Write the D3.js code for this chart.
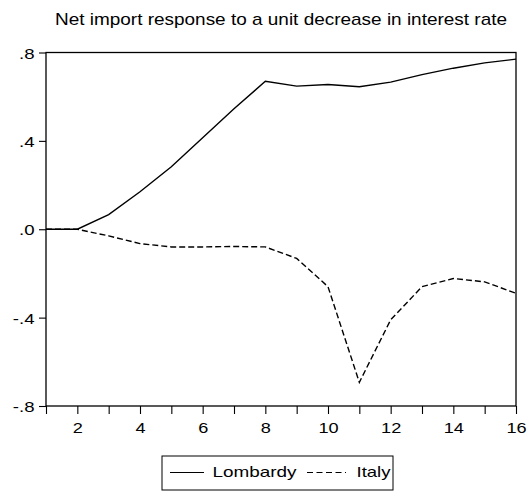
<!DOCTYPE html>
<html><head><meta charset="utf-8">
<script src="https://cdn.jsdelivr.net/npm/d3@7"></script>
<style>body{margin:0;background:#fff}text{font-family:"Liberation Sans",Arial,sans-serif;fill:#000}</style>
</head><body><svg id="c" width="529" height="491"></svg>
<script>
const periods = [1,2,3,4,5,6,7,8,9,10,11,12,13,14,15,16];
const lombardy = [0,0,0.066,0.17,0.283,0.414,0.545,0.67,0.648,0.655,0.645,0.666,0.70,0.729,0.753,0.77];
const italy = [0,0,-0.03,-0.065,-0.08,-0.08,-0.078,-0.08,-0.132,-0.26,-0.693,-0.41,-0.26,-0.223,-0.238,-0.29];
const yTicks = [-0.8,-0.4,0,0.4,0.8];
const xLabelTicks = [2,4,6,8,10,12,14,16];
const title = "Net import response to a unit decrease in interest rate";
const seriesNames = ["Lombardy","Italy"];

const svg = d3.select("#c");
const L=46,R=516,T=52.5,B=406;
const x = d3.scaleLinear().domain([1,16]).range([L,R]);
const y = d3.scaleLinear().domain([-0.8,0.8]).range([B,T]);

function stretch(sel, sx, anchor){
  sel.each(function(){
    const n=this.getComputedTextLength();
    if(n<=0) return;
    const w=n*sx;
    const x0=+this.getAttribute("x")||0;
    const nx = anchor==="end" ? x0-w : anchor==="middle" ? x0-w/2 : x0;
    this.setAttribute("text-anchor","start");
    this.setAttribute("x",nx);
    this.setAttribute("textLength",w);
    this.setAttribute("lengthAdjust","spacingAndGlyphs");
  });
}

const tt = svg.append("text").attr("x",55).attr("y",25).style("font-size","17px").text(title);
tt.each(function(){ this.setAttribute("textLength",452); this.setAttribute("lengthAdjust","spacingAndGlyphs"); });

svg.append("rect").attr("x",L).attr("y",T).attr("width",R-L).attr("height",B-T).attr("fill","none").attr("stroke","#000").attr("stroke-width",1.3);

const fmt = v => { if (v===0) return ".0"; const s=Math.abs(v).toFixed(1).replace(/^0/,""); return (v<0?"-":"")+s; };
const ya = svg.append("g").attr("transform",`translate(${L},0)`).call(d3.axisLeft(y).tickValues(yTicks).tickSize(7).tickSizeOuter(0).tickPadding(11.5).tickFormat(fmt));
ya.select(".domain").remove();
ya.attr("font-size",null).attr("font-family",null);
ya.selectAll("text").style("font-size","15.5px").attr("dy","0.36em").attr("x",-11.5);
stretch(ya.selectAll("text"),1.2,"end");

const xa = svg.append("g").attr("transform",`translate(0,${B})`).call(d3.axisBottom(x).tickValues(periods).tickSize(8).tickSizeOuter(0).tickFormat(d=>xLabelTicks.includes(d)?d:""));
xa.select(".domain").remove();
xa.attr("font-size",null).attr("font-family",null);
xa.selectAll("text").style("font-size","15.5px").attr("dy",null).attr("y",26.7).attr("x",0);
stretch(xa.selectAll("text"),1.17,"middle");
svg.selectAll(".tick line").attr("stroke","#000").attr("stroke-width",1.1);

const line = d3.line().x((d,i)=>x(periods[i])).y(d=>y(d));
svg.append("path").datum(lombardy).attr("d",line).attr("fill","none").attr("stroke","#000").attr("stroke-width",1.4);
svg.append("path").datum(italy).attr("d",line).attr("fill","none").attr("stroke","#000").attr("stroke-width",1.4).attr("stroke-dasharray","6,3");

const lg = svg.append("g");
lg.append("rect").attr("x",162).attr("y",456).attr("width",231).attr("height",34).attr("fill","#fff").attr("stroke","#000").attr("stroke-width",1);
lg.append("line").attr("x1",170).attr("x2",204).attr("y1",472.5).attr("y2",472.5).attr("stroke","#000").attr("stroke-width",1.2);
const t1 = lg.append("text").attr("x",212.5).attr("y",476.7).style("font-size","15px").text(seriesNames[0]);
lg.append("line").attr("x1",307).attr("x2",346).attr("y1",472.5).attr("y2",472.5).attr("stroke","#000").attr("stroke-width",1.2).attr("stroke-dasharray","6,3.5");
const t2 = lg.append("text").attr("x",356.5).attr("y",476.7).style("font-size","15px").text(seriesNames[1]);
t1.each(function(){ this.setAttribute("textLength",84); this.setAttribute("lengthAdjust","spacingAndGlyphs"); });
t2.each(function(){ this.setAttribute("textLength",34); this.setAttribute("lengthAdjust","spacingAndGlyphs"); });
</script></body></html>
